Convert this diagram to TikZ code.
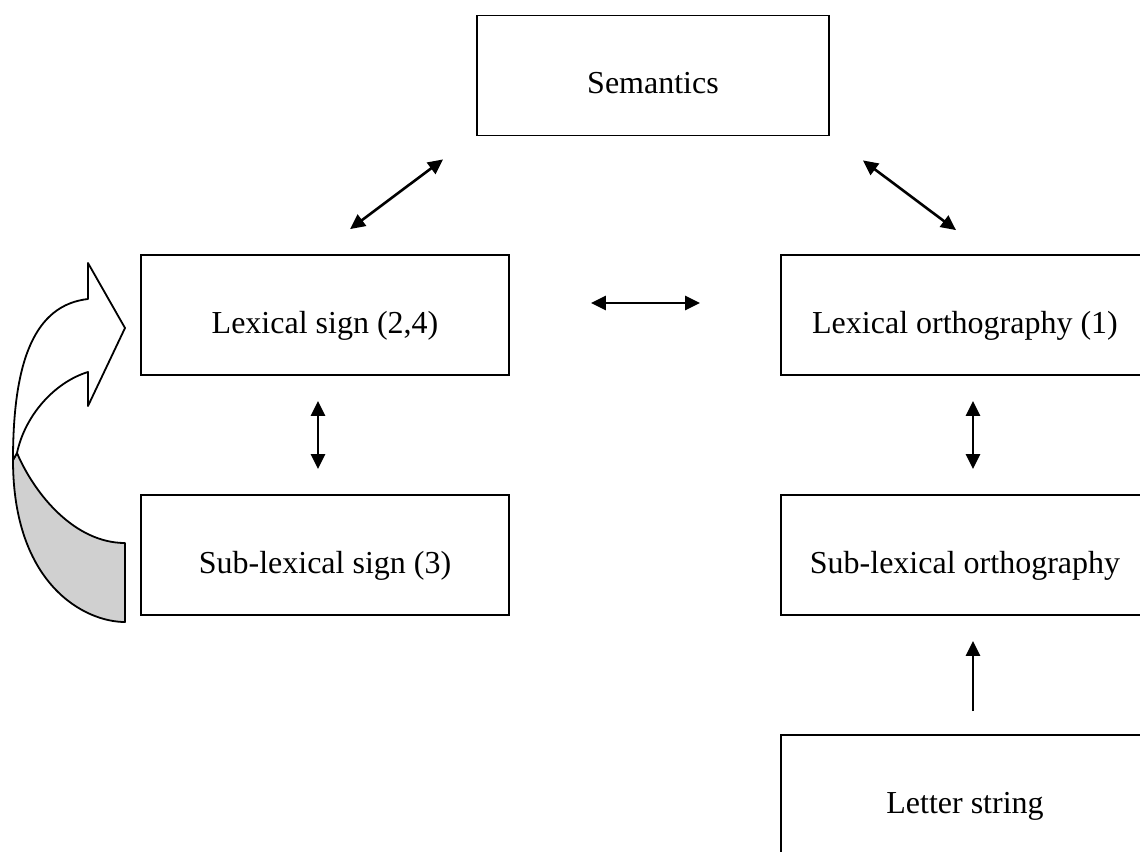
\documentclass[tikz,border=0pt]{standalone}
\definecolor{ribbonGray}{RGB}{208,208,208}
\usepackage{fontspec}
\setmainfont{Liberation Serif}
\usepackage{tikz}
\usetikzlibrary{arrows.meta,positioning,calc}

\begin{document}
\begin{tikzpicture}[
        x=0.5pt, y=-0.5pt,
        box/.style={draw, line width=0.9pt, minimum width=184pt, minimum height=60pt,
          inner sep=0pt, text height=18pt, text depth=0pt, font=\fontsize{16}{19}\selectfont},
        link/.style={line width=1.3pt, {Triangle[length=7.5pt,width=7pt]}-{Triangle[length=7.5pt,width=7pt]}},
        >={Triangle[length=7.5pt,width=7pt]}
      ]
        \useasboundingbox (0,0) rectangle (1140,851);
        \clip (0,0) rectangle (1140,851);
        \node[box, minimum width=176pt] (sem) at (653,75.5) {Semantics};
        \node[box] (lexsign) at (325,315) {Lexical sign (2,4)};
        \node[box] (sublexsign) at (325,555) {Sub-lexical sign (3)};
        \node[box] (lexorth) at (965,315) {Lexical orthography (1)};
        \node[box] (sublexorth) at (965,555) {Sub-lexical orthography};
        \node[box] (letter) at (965,795) {Letter string};
        % links
        \draw[link] ([shift={(12.5pt,12.5pt)}]lexsign.north) -- ([shift={(-16.5pt,-11.5pt)}]sem.south west);
        \draw[link] ([shift={(16.5pt,-12pt)}]sem.south east) -- ([shift={(-4.5pt,12pt)}]lexorth.north);
        \draw[link, shorten <=40.5pt, shorten >=40pt] ([yshift=6pt]lexsign.east) -- ([yshift=6pt]lexorth.west);
        \draw[link, shorten <=12.5pt, shorten >=12.5pt] ([xshift=-3.5pt]lexsign.south) -- ([xshift=-3.5pt]sublexsign.north);
        \draw[link, shorten <=12.5pt, shorten >=12.5pt] ([xshift=4pt]lexorth.south) -- ([xshift=4pt]sublexorth.north);
        \draw[->, line width=1.3pt, shorten <=11.5pt, shorten >=12.5pt] ([xshift=4pt]letter.north) -- ([xshift=4pt]sublexorth.south);
        % curved block arrow
        \draw[line width=0.9pt, fill=ribbonGray, line join=round]
          (17,453) .. controls (35,495) and (75,543) .. (125,543) -- (125,622)
          .. controls (85,622) and (13,585) .. (13,460) -- cycle;
        \draw[line width=0.9pt, fill=white, line join=round]
          (13,460) .. controls (13,360) and (35,305) .. (88,299) -- (88,263) -- (125,328)
          -- (88,406) -- (88,372) .. controls (55,382) and (25,415) .. (17,453) -- cycle;
      \end{tikzpicture}
\end{document}
